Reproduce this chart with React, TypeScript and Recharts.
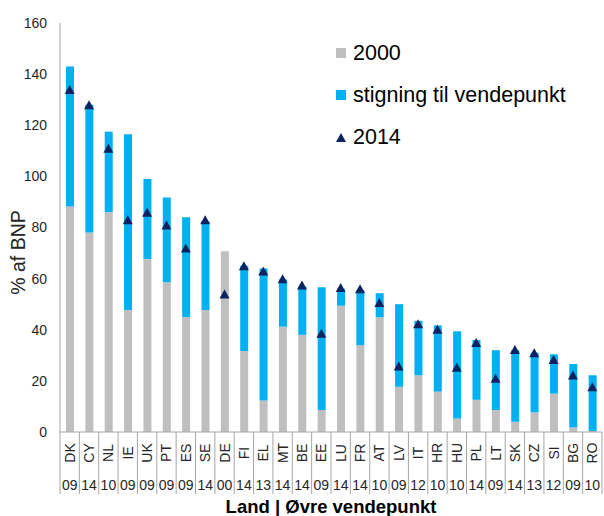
import { ComposedChart, Bar, Line, XAxis, YAxis } from 'recharts';

const countries = ['DK', 'CY', 'NL', 'IE', 'UK', 'PT', 'ES', 'SE', 'DE', 'FI', 'EL', 'MT', 'BE', 'EE', 'LU', 'FR', 'AT', 'LV', 'IT', 'HR', 'HU', 'PL', 'LT', 'SK', 'CZ', 'SI', 'BG', 'RO'];
const peakYears = ['09', '14', '10', '09', '09', '09', '09', '14', '00', '14', '13', '14', '14', '09', '14', '14', '10', '09', '12', '10', '10', '14', '09', '14', '13', '12', '09', '10'];
const debt2000 = [88.2, 78, 86, 47.7, 67.7, 58.6, 45, 47.7, 70.7, 31.7, 12.3, 41.2, 38, 8.6, 49.4, 34, 44.9, 17.7, 22.2, 15.8, 5.3, 12.6, 8.6, 4, 7.7, 15, 1.8, 0.4];
const debtPeak = [143, 128, 117.5, 116.5, 99, 91.7, 84, 82.3, 70.7, 65, 64, 59.7, 57, 56.6, 56, 55.5, 54.3, 50, 43.5, 41.7, 39.4, 36, 32, 32, 31, 30.4, 26.6, 22.2];
const debt2014 = [134, 128, 111, 83, 86, 81, 72, 83, 54, 65, 63, 60, 57.5, 38.6, 56.5, 56, 50.7, 25.8, 42.3, 40.2, 25.3, 35, 21, 32.3, 31, 28.4, 22.3, 17.7];
const yTicks = [0, 20, 40, 60, 80, 100, 120, 140, 160];

const GREY = '#bfbfbf';
const BLUE = '#00b0f0';
const NAVY = '#0c2361';
const FONT = '"Liberation Sans", Arial, sans-serif';

const W = 604;
const H = 516;
const M = { top: 23, right: 2, bottom: 0, left: 0 };
const Y_W = 60;
const PLOT_W = W - M.left - M.right - Y_W;

const data = countries.map((c, i) => ({
  land: c,
  base: debt2000[i],
  rise: Math.max(0, debtPeak[i] - debt2000[i]),
  y2014: debt2014[i],
}));

const Triangle = (props: any) => {
  const { cx, cy } = props;
  if (cx == null || cy == null) return null;
  return <path d={`M${cx - 5},${cy + 4.5}L${cx + 5},${cy + 4.5}L${cx},${cy - 4.5}Z`} fill={NAVY} />;
};

const LandTick = (props: any) => {
  const { x, y, payload } = props;
  const i = countries.indexOf(payload.value);
  const step = PLOT_W / countries.length;
  return (
    <g fontFamily={FONT}>
      <line x1={x - step / 2} y1={y} x2={x - step / 2} y2={y + 62} stroke="#a6a6a6" />
      {i === countries.length - 1 && (
        <line x1={x + step / 2} y1={y} x2={x + step / 2} y2={y + 62} stroke="#a6a6a6" />
      )}
      <text
        transform={`translate(${x},${y + 21}) rotate(-90)`}
        textAnchor="middle"
        dominantBaseline="central"
        fontSize={14}
        fill="#262626"
      >
        {payload.value}
      </text>
      <text x={x} y={y + 58} textAnchor="middle" fontSize={14} fill="#262626">
        {peakYears[i]}
      </text>
    </g>
  );
};

const legendItems = [
  { label: '2000', color: GREY, shape: 'square' },
  { label: 'stigning til vendepunkt', color: BLUE, shape: 'square' },
  { label: '2014', color: NAVY, shape: 'triangle' },
];

const LegendBox = () => (
  <div
    style={{
      position: 'absolute',
      left: 332,
      top: 32,
      fontFamily: FONT,
      fontSize: 21.5,
      color: '#000',
    }}
  >
    {legendItems.map((it) => (
      <div key={it.label} style={{ display: 'flex', alignItems: 'center', height: 42 }}>
        <svg width={16} height={12} style={{ marginRight: 5 }}>
          {it.shape === 'square' ? (
            <rect x={4} y={1} width={10} height={10} fill={it.color} />
          ) : (
            <path d="M4,11L14,11L9,2Z" fill={it.color} />
          )}
        </svg>
        {it.label}
      </div>
    ))}
  </div>
);

export default function App() {
  return (
    <div style={{ position: 'absolute', left: 0, top: 0, width: W, height: H, background: '#fff' }}>
      <ComposedChart width={W} height={H} data={data} margin={M} barCategoryGap={0}>
        <XAxis
          dataKey="land"
          interval={0}
          height={84}
          tick={<LandTick />}
          tickLine={false}
          tickSize={0}
          tickMargin={0}
          axisLine={{ stroke: '#a6a6a6' }}
          label={{
            value: 'Land | Øvre vendepunkt',
            position: 'insideBottom',
            offset: 3,
            fontFamily: FONT,
            fontSize: 18.5,
            fontWeight: 'bold',
            fill: '#000',
          }}
        />
        <YAxis
          width={Y_W}
          domain={[0, 160]}
          ticks={yTicks}
          tickLine={false}
          tickMargin={7}
          axisLine={{ stroke: '#a6a6a6' }}
          tick={{ fontSize: 14, fill: '#262626', fontFamily: FONT }}
          label={{
            value: '% af BNP',
            angle: -90,
            position: 'insideLeft',
            offset: 18,
            dy: 25,
            fontFamily: FONT,
            fontSize: 19.5,
            fill: '#262626',
            style: { textAnchor: 'middle' },
          }}
        />
        <Bar dataKey="base" stackId="a" fill={GREY} barSize={8} isAnimationActive={false} />
        <Bar dataKey="rise" stackId="a" fill={BLUE} barSize={8} isAnimationActive={false} />
        <Line
          dataKey="y2014"
          stroke="none"
          dot={<Triangle />}
          activeDot={false}
          isAnimationActive={false}
        />
      </ComposedChart>
      <LegendBox />
    </div>
  );
}
